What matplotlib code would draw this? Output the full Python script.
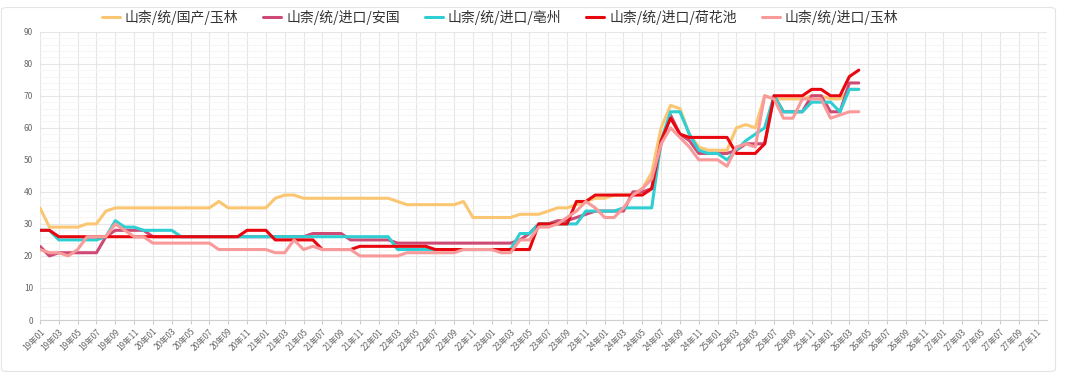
import numpy as np
import matplotlib
matplotlib.use("Agg")
import matplotlib.pyplot as plt
from matplotlib.patches import FancyBboxPatch
from matplotlib.ticker import MultipleLocator

plt.rcParams['font.family'] = ['Noto Sans CJK SC', 'DejaVu Sans']

# Month categories 19年01 .. 27年12
years = np.repeat(np.arange(19, 28), 12)
months = np.tile(np.arange(1, 13), 9)
categories = [f"{y}年{m:02d}" for y, m in zip(years, months)]

# Series names
names = ['山柰/统/国产/玉林', '山柰/统/进口/安国', '山柰/统/进口/亳州',
         '山柰/统/进口/荷花池', '山柰/统/进口/玉林']

# Monthly prices, 19年01 .. 26年04
yulin_dom = ([35] + [29]*4 + [30]*2 + [34] + [35]*11 + [37] + [35]*5 + [38] + [39]*2 +
             [38]*10 + [37] + [36]*6 + [37] + [32]*5 + [33]*3 + [34] + [35]*2 + [36] + [37] +
             [38]*2 + [39]*3 + [41, 46, 60, 67, 66, 58, 54] + [53]*3 + [60, 61, 60, 70] +
             [69]*4 + [70]*2 + [69]*2 + [72]*2)
anguo = ([23, 20] + [21]*5 + [26] + [28]*4 + [26]*17 + [27]*4 + [25]*5 + [24]*13 +
         [25, 27, 30, 30, 31, 31, 32, 33] + [34]*4 + [40, 40, 41, 55, 64, 58, 56] + [52]*4 +
         [53] + [55]*3 + [70] + [65]*3 + [70]*2 + [65]*2 + [74]*2)
bozhou = ([28]*2 + [25]*5 + [26, 31, 29, 29] + [28]*4 + [26]*23 + [22]*13 + [27]*2 +
          [30]*5 + [34]*4 + [35]*4 + [56, 65, 65, 58, 53, 52, 52, 50, 53, 56, 58, 60, 70] +
          [65]*3 + [68]*3 + [65] + [72]*2)
hehuachi = ([28]*2 + [26]*20 + [28]*3 + [25]*5 + [22]*4 + [23]*8 + [22]*11 + [30]*4 +
            [37]*2 + [39]*6 + [41, 56, 63, 58] + [57]*5 + [52]*3 + [55] + [70]*4 +
            [72]*2 + [70]*2 + [76, 78])
yulin_imp = ([22, 21, 21, 20, 22] + [26]*3 + [30, 28, 26, 26] + [24]*7 + [22]*6 + [21]*2 +
             [25, 22, 23] + [22]*4 + [20]*5 + [21]*6 + [22]*4 + [21]*2 + [25]*2 + [29]*2 +
             [30, 32, 34, 37, 35, 32, 32, 35, 39, 41, 44, 55, 60, 57, 54] + [50]*3 +
             [48, 54, 55, 54, 70, 69, 63, 63] + [69]*3 + [63, 64, 65, 65])

series = [yulin_dom, anguo, bozhou, hehuachi, yulin_imp]
colors = ['#FAC672', '#CE4A74', '#2DCFD3', '#E8070E', '#F99A9A']

W, H = 1080, 373
fig = plt.figure(figsize=(W/100, H/100), dpi=100)

# card outline
card = FancyBboxPatch((1.5/W, 1.5/H), 1054/W, 364/H, boxstyle="round,pad=0,rounding_size=0.006",
                      transform=fig.transFigure, facecolor='white', edgecolor='#E4E4E4', lw=0.8,
                      zorder=-5)
fig.patches.append(card)

ax = fig.add_axes([40/W, 1-320/H, 1007/W, 288.3/H])
ax.set_facecolor('none')

for vals, c, n in zip(series, colors, names):
    x = np.arange(len(vals))
    ax.plot(x, vals, color=c, lw=2.2, label=n, solid_joinstyle='round', solid_capstyle='round')

ax.set_xlim(0, len(categories) - 1)
ax.set_ylim(0, 90)
ax.set_xticks(np.arange(0, len(categories) - 1, 2))
ax.set_xticklabels(categories[0:len(categories) - 1:2], rotation=45, ha='right',
                   rotation_mode='anchor', fontsize=6, color='#666666')
ax.yaxis.set_major_locator(MultipleLocator(10))
ax.yaxis.set_minor_locator(MultipleLocator(2))
ax.tick_params(axis='y', which='both', length=0, labelsize=6, labelcolor='#666666', pad=5)
ax.tick_params(axis='x', length=3, color='#CCCCCC', pad=2)

ax.grid(axis='x', which='major', color='#E6E6E6', lw=0.8)
ax.grid(axis='y', which='major', color='#E6E6E6', lw=0.8)
ax.grid(axis='y', which='minor', color='#F4F4F4', lw=0.6)
ax.set_axisbelow(True)

for s in ['top', 'right', 'left']:
    ax.spines[s].set_visible(False)
ax.spines['bottom'].set_color('#CFCFCF')
ax.spines['bottom'].set_linewidth(0.8)

fig.legend(loc='center', bbox_to_anchor=(500/W, 1-17/H), ncol=5, frameon=False,
           fontsize=10, handlelength=1.3, handletextpad=0.35, columnspacing=1.8,
           labelcolor='#333333')

fig.savefig('out.png', dpi=100)
